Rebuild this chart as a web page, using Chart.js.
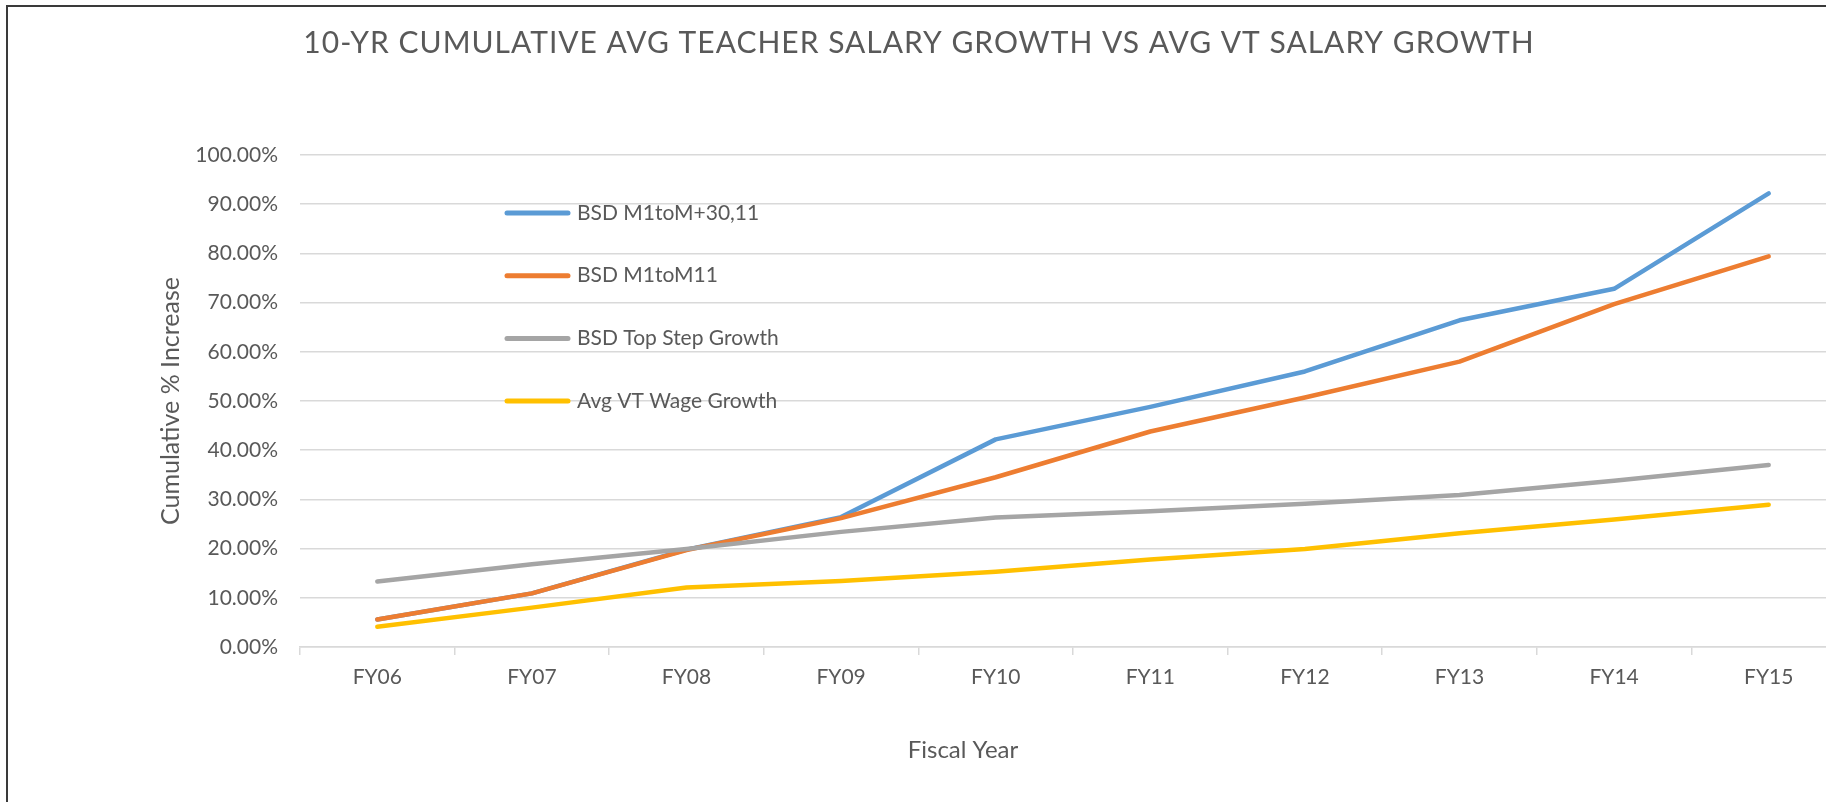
<!DOCTYPE html>
<html>
<head>
<meta charset="utf-8">
<script src="https://cdn.jsdelivr.net/npm/chart.js@4.4.1/dist/chart.umd.min.js"></script>
<style>
    html, body { margin: 0; padding: 0; background: #ffffff; overflow: hidden; }
    #wrap { position: relative; width: 1826px; height: 802px; overflow: hidden; }
    #frame { position: absolute; left: 6px; top: 5px; width: 1900px; height: 900px;
             border-left: 2px solid #3a3a3a; border-top: 2px solid #3a3a3a; }
    #chart { position: absolute; left: 0; top: 0; }
</style>
</head>
<body>
<div id="wrap">
    <div id="frame"></div>
    <canvas id="chart" width="1880" height="802"></canvas>
</div>
<script>
const fiscalYears = ['FY06', 'FY07', 'FY08', 'FY09', 'FY10', 'FY11', 'FY12', 'FY13', 'FY14', 'FY15'];

// cumulative % increase
const bsdM30 = [5.6, 10.9, 19.8, 26.4, 42.2, 48.8, 56.0, 66.4, 72.8, 92.2];
const bsdM11 = [5.6, 10.9, 19.7, 26.2, 34.5, 43.8, 50.7, 58.0, 69.7, 79.4];
const bsdTopStep = [13.3, 16.8, 19.9, 23.4, 26.3, 27.6, 29.1, 30.9, 33.8, 37.0];
const vtWage = [4.1, 8.0, 12.1, 13.4, 15.3, 17.8, 19.9, 23.1, 25.9, 28.9];

const seriesNames = ['BSD M1toM+30,11', 'BSD M1toM11', 'BSD Top Step Growth', 'Avg VT Wage Growth'];
const seriesColors = ['#5B9BD5', '#ED7D31', '#A5A5A5', '#FFC000'];

const chartTitle = '10-YR CUMULATIVE AVG TEACHER SALARY GROWTH VS AVG VT SALARY GROWTH';
const xTitle = 'Fiscal Year';
const yTitle = 'Cumulative % Increase';

const textColor = '#595959';
const gridColor = '#D9D9D9';
const fontFamily = 'Lato, "Open Sans", sans-serif';

// titles and the legend are drawn by hand, Excel puts them in odd spots
const chartText = {
    id: 'chartText',
    afterDraw(chart) {
        const ctx = chart.ctx;
        const area = chart.chartArea;
        ctx.save();
        ctx.fillStyle = textColor;
        ctx.textBaseline = 'middle';

        ctx.font = '30px ' + fontFamily;
        ctx.textAlign = 'center';
        ctx.letterSpacing = '1px';
        ctx.fillText(chartTitle, 919, 43);
        ctx.letterSpacing = '0px';

        ctx.font = '24px ' + fontFamily;
        ctx.fillText(xTitle, 963, 750);

        ctx.save();
        ctx.font = '25px ' + fontFamily;
        ctx.translate(171, (area.top + area.bottom) / 2);
        ctx.rotate(-Math.PI / 2);
        ctx.fillText(yTitle, 0, 0);
        ctx.restore();

        // legend
        ctx.font = '21px ' + fontFamily;
        ctx.textAlign = 'left';
        ctx.lineCap = 'round';
        ctx.lineWidth = 5;
        chart.data.datasets.forEach((ds, i) => {
            const y = 213 + i * 62.7;
            ctx.strokeStyle = ds.borderColor;
            ctx.beginPath();
            ctx.moveTo(507, y);
            ctx.lineTo(568, y);
            ctx.stroke();
            ctx.fillText(ds.label, 577, y);
        });
        ctx.restore();
    }
};

const lineStyle = {
    borderWidth: 4.5,
    pointRadius: 0,
    pointHoverRadius: 0,
    tension: 0,
    borderCapStyle: 'round',
    borderJoinStyle: 'round',
    fill: false
};

new Chart(document.getElementById('chart'), {
    type: 'line',
    data: {
        labels: fiscalYears,
        datasets: [
            { label: seriesNames[0], data: bsdM30, borderColor: seriesColors[0], order: 3, ...lineStyle },
            { label: seriesNames[1], data: bsdM11, borderColor: seriesColors[1], order: 2, ...lineStyle },
            { label: seriesNames[2], data: bsdTopStep, borderColor: seriesColors[2], order: 1, ...lineStyle },
            { label: seriesNames[3], data: vtWage, borderColor: seriesColors[3], order: 0, ...lineStyle }
        ]
    },
    options: {
        responsive: false,
        animation: false,
        layout: {
            padding: { left: 0, top: 155, right: 34, bottom: 95 }
        },
        plugins: {
            legend: { display: false },
            title: { display: false },
            tooltip: { enabled: false }
        },
        scales: {
            x: {
                offset: true,
                grid: {
                    offset: true,
                    drawOnChartArea: false,
                    drawTicks: true,
                    tickLength: 8,
                    color: gridColor,
                    lineWidth: 1.5
                },
                border: { color: gridColor, width: 1.5 },
                ticks: {
                    color: textColor,
                    font: { family: fontFamily, size: 21 },
                    padding: 10,
                    maxRotation: 0
                },
                afterFit(scale) { scale.height = 60; }
            },
            y: {
                min: 0,
                max: 100,
                ticks: {
                    stepSize: 10,
                    color: textColor,
                    font: { family: fontFamily, size: 21 },
                    padding: 22,
                    callback: (v) => v.toFixed(2) + '%'
                },
                grid: {
                    color: gridColor,
                    lineWidth: 1.5,
                    drawTicks: false
                },
                border: { display: false },
                afterFit(scale) { scale.width = 300; }
            }
        }
    },
    plugins: [chartText]
});
</script>
</body>
</html>
